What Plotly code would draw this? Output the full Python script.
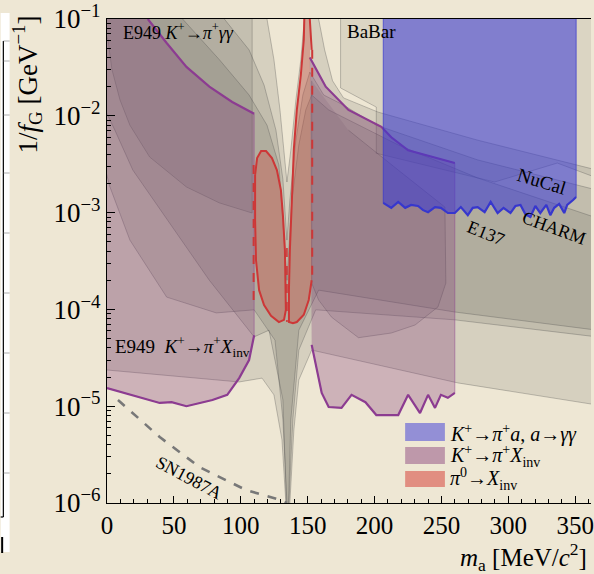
import plotly.graph_objects as go

# ---------------- data: mass m_a [MeV/c^2], coupling 1/f_G [GeV^-1] ----------------
# beam-dump style grey bands (outer, middle, inner)
bandA_m = [-5, 117, 119.6, 124.8, 129.3, 133.0, 134.5, 137.4, 141.2, 144.9, 147.1, 148.6, 156.8, 158.2, 162.7,
           168.6, 176.8, 202.8, 277.1, 366.3, 366.3, 262.3, 153.0, 143.4, 139.7, 136.7, 136.7, 133.7, 133.7,
           130.8, 124.8, 115.9, 98.8, 0, -5]
bandA_c = [0.15, 0.15, 0.1, 3.8e-2, 1.15e-2, 3.5e-3, 2.07e-3, 4.4e-3, 1.46e-2, 3.8e-2, 7.7e-2, 0.15, 0.15, 0.1,
           4.8e-2, 2.3e-2, 1.53e-2, 1.09e-2, 5.6e-3, 2.75e-3, 1.03e-5, 1.74e-5, 3.8e-5, 1.87e-5, 5.7e-6, 1e-6,
           5e-7, 5e-7, 1e-6, 4.5e-6, 1.31e-5, 1.95e-5, 1.78e-5, 2.4e-5, 2.4e-5]

bandB_m = [-5, 85, 87.7, 106.2, 117.4, 126.3, 131.5, 134.5, 136.7, 141.2, 146.4, 151.6, 162.0, 176.8, 201.3,
           277.1, 366.3, 366.3, 260.0, 156.0, 143.4, 138.9, 136.0, 136.0, 134.5, 134.5, 131.5, 125.6, 110.0,
           81.7, 44.6, 17.1, 2.2, -5]
bandB_c = [0.15, 0.15, 0.1, 4.8e-2, 2.08e-2, 7.1e-3, 2.2e-3, 5.2e-4, 1.35e-3, 5.6e-3, 1.64e-2, 2.83e-2, 1.64e-2,
           1.29e-2, 8.0e-3, 3.5e-3, 1.71e-3, 5.2e-5, 7.8e-5, 9.9e-5, 3.8e-5, 7.2e-6, 1e-6, 5e-7, 5e-7, 1e-6,
           7.2e-6, 4.8e-5, 9.9e-5, 9.2e-5, 1.34e-4, 5.2e-4, 1.84e-3, 4.4e-3]

bandC_m = [-5, 54, 56.5, 84.0, 106.2, 119.6, 128.5, 134.5, 138.2, 143.4, 148.6, 153.0, 165.7, 188.0, 217.7,
           277.1, 366.3, 366.3, 260.0, 158.2, 143.4, 137.4, 135.2, 135.2, 134.1, 134.1, 131.5, 121.1, 110.0,
           76.5, 19.3, 5.9, -5]
bandC_c = [0.15, 0.15, 0.1, 3.8e-2, 1.64e-2, 8.0e-3, 3.1e-3, 2.0e-4, 1.35e-3, 5.0e-3, 1.15e-2, 1.64e-2,
           1.15e-2, 8.0e-3, 5.0e-3, 2.28e-3, 8.8e-4, 6.1e-5, 9.4e-5, 1.58e-4, 6.1e-5, 7.2e-6, 1e-6, 5e-7, 5e-7,
           1e-6, 1.16e-5, 6.1e-5, 5.2e-5, 2.0e-4, 2.75e-3, 7.1e-3, 1.46e-2]

# E949 K+ -> pi+ gamma gamma
e949gg_m = [-5, 108.5, 108.5, 84.0, 59.4, 31.9, 17.1, 9.7, 3.7, 0.7, -5]
e949gg_c = [0.15, 0.15, 9.9e-4, 1.26e-3, 1.84e-3, 3.75e-3, 8.0e-3, 1.46e-2, 3.0e-2, 6.1e-2, 0.1]

# BaBar
babar_m = [174.6, 174.6, 201.3, 201.3, 289.7, 336.6, 366.3, 366.3]
babar_c = [0.15, 1.94e-2, 1.23e-2, 4.1e-3, 2.07e-3, 3.25e-3, 2.28e-3, 0.15]

# inner rounded grey region above pi0 mass
bulb_m = [153.0, 153.0, 158.2, 167.9, 188.0, 212.5, 230.3, 247.4, 253.3, 252.6, 217.7, 180.5]
bulb_c = [2.3e-2, 1.87e-4, 1.25e-4, 8.3e-5, 5.1e-5, 5.7e-5, 6.9e-5, 1.06e-4, 1.87e-4, 1.14e-3, 2.75e-3, 7.1e-3]

# K+ -> pi+ X_inv (below pi0)
kpiL_up_m = [30.5, 44.6, 59.4, 76.5, 93.6, 110.0]
kpiL_up_c = [0.1, 5.65e-2, 3.2e-2, 2.0e-2, 1.39e-2, 1.05e-2]
kpiL_lo_m = [0, 39.4, 48.3, 59.4, 78.8, 89.9, 98.8, 106.2, 110.0]
kpiL_lo_c = [1.54e-5, 1.08e-5, 1.10e-5, 1.0e-5, 1.16e-5, 1.31e-5, 1.95e-5, 3.0e-5, 5.4e-5]

# K+ -> pi+ X_inv (above pi0)
kpiR_up_m = [151.6, 163.5, 180.5, 205.1, 212.5, 225.1, 260.0]
kpiR_up_c = [4.0e-2, 2.0e-2, 1.15e-2, 7.7e-3, 6.0e-3, 4.4e-3, 3.25e-3]
kpiR_lo_m = [153.0, 160.5, 165.7, 175.3, 182.8, 193.2, 201.3, 217.7, 225.1, 234.0, 240.0, 245.2, 249.6, 254.8, 260.0]
kpiR_lo_c = [4.3e-5, 1.37e-5, 9.8e-6, 9.6e-6, 1.31e-5, 1.10e-5, 8.1e-6, 8.1e-6, 1.31e-5, 8.5e-6, 1.31e-5,
             9.6e-6, 1.31e-5, 1.22e-5, 1.37e-5]

# pi0 -> X_inv lobes
pi0L_m = [110.7, 112.2, 115.2, 118.9, 123.3, 127.0, 130.0, 131.5, 133.0, 133.7, 133.7, 132.3, 128.5, 122.6,
          117.4, 113.7, 111.4, 110.7, 110.7]
pi0L_c = [2.45e-3, 3.66e-3, 4.33e-3, 4.33e-3, 3.66e-3, 2.75e-3, 1.71e-3, 9.4e-4, 4.1e-4, 1.79e-4, 9.9e-5,
          7.8e-5, 7.4e-5, 8.6e-5, 1.11e-4, 1.58e-4, 3.2e-4, 8.4e-4, 2.45e-3]
pi0R_m = [153.0, 150.8, 147.1, 141.9, 139.0, 136.0, 136.0, 136.7, 138.2, 139.7, 141.9, 144.9, 147.1, 147.8, 147.8]
pi0R_c = [2.0e-4, 1.25e-4, 8.8e-5, 7.4e-5, 7.2e-5, 7.4e-5, 1.58e-4, 4.1e-4, 1.35e-3, 4.6e-3, 1.15e-2, 2.64e-2,
          6.1e-2, 0.1, 0.15]
pi0R_top_m = [151.6, 151.6, 153.0]
pi0R_top_c = [0.15, 0.1, 4.8e-2]
pi0R_edge_m = [153.4, 153.4]
pi0R_edge_c = [4.8e-2, 2.0e-4]
pi0L_edge_m = [109.6, 109.6]
pi0L_edge_c = [3.1e-3, 1.25e-4]
pi0_mid_m = [134.5, 134.5]
pi0_mid_c = [4.3e-4, 7.4e-5]

# K+ -> pi+ a, a -> gamma gamma
kpa_lo_m = [206.5, 212.5, 217.7, 222.9, 227.3, 232.5, 236.3, 240.0, 245.2, 249.6, 254.8, 260.0, 264.5, 269.7,
            273.4, 277.1, 282.3, 286.8, 292.0, 296.4, 301.6, 305.3, 309.1, 312.8, 316.5, 320.2, 323.9, 328.4,
            331.4, 334.3, 338.0, 341.8, 344.0, 346.2, 348.4, 350.7]
kpa_lo_c = [1.26e-3, 1.12e-3, 1.29e-3, 1.12e-3, 1.2e-3, 1.17e-3, 1.06e-3, 1.01e-3, 1.14e-3, 1.12e-3, 9.9e-4,
            9.9e-4, 1.14e-3, 9.4e-4, 1.12e-3, 1.14e-3, 1.01e-3, 1.29e-3, 9.9e-4, 1.12e-3, 9.9e-4, 1.17e-3,
            1.2e-3, 9.6e-4, 9.0e-4, 1.17e-3, 9.9e-4, 1.2e-3, 9.4e-4, 1.12e-3, 1.23e-3, 9.9e-4, 1.2e-3, 1.26e-3,
            1.35e-3, 1.45e-3]
KPA_TOP = 0.15

# SN1987A
sn_m = [8.2, 39.4, 69.1, 104.0, 130.0, 134.5]
sn_c = [1.16e-5, 4.8e-6, 2.35e-6, 1.36e-6, 1.07e-6, 1e-6]

x_ticks = [0, 50, 100, 150, 200, 250, 300, 350]
y_ticks = [1e-6, 1e-5, 1e-4, 1e-3, 1e-2, 1e-1]
y_ticktext = ["10<sup>−6</sup>", "10<sup>−5</sup>", "10<sup>−4</sup>", "10<sup>−3</sup>", "10<sup>−2</sup>",
              "10<sup>−1</sup>"]

# ---------------- styling ----------------
BG = "#eee7d4"
FONT = "Liberation Serif"
GREY_FILL = "rgba(95,95,88,0.17)"
GREY_LINE = "rgba(70,70,70,0.30)"
PURPLE_FILL = "rgba(130,55,120,0.30)"
PURPLE_LINE = "rgb(140,60,145)"
RED_FILL = "rgba(205,75,65,0.36)"
RED_LINE = "rgb(205,55,55)"
BLUE_FILL = "rgba(55,55,215,0.55)"
BLUE_LINE = "rgb(55,55,205)"

fig = go.Figure()


def poly(m, c, fill, line=GREY_LINE, width=1.0):
    fig.add_trace(go.Scatter(x=m, y=c, mode="lines", fill="toself", fillcolor=fill,
                             line=dict(color=line, width=width), hoverinfo="skip", showlegend=False))


def curve(m, c, color, width=2.0, dash="solid"):
    fig.add_trace(go.Scatter(x=m, y=c, mode="lines", line=dict(color=color, width=width, dash=dash),
                             hoverinfo="skip", showlegend=False))


# grey constraints
poly(babar_m, babar_c, "rgba(95,95,88,0.13)")
poly(e949gg_m, e949gg_c, "rgba(95,95,88,0.14)")
poly(bandA_m, bandA_c, GREY_FILL)
poly(bandB_m, bandB_c, GREY_FILL)
poly(bandC_m, bandC_c, GREY_FILL)
poly(bulb_m, bulb_c, "rgba(95,80,95,0.14)")

# K -> pi X_inv (purple)
pl_m = [0, 28.5] + kpiL_up_m + kpiL_lo_m[::-1]
pl_c = [0.15, 0.15] + kpiL_up_c + kpiL_lo_c[::-1]
poly(pl_m, pl_c, PURPLE_FILL, line="rgba(140,60,145,0.45)", width=1)
curve(kpiL_up_m, kpiL_up_c, PURPLE_LINE, 2.2)
curve(kpiL_lo_m, kpiL_lo_c, PURPLE_LINE, 2.2)

pr_m = kpiR_up_m + kpiR_lo_m[::-1]
pr_c = kpiR_up_c + kpiR_lo_c[::-1]
poly(pr_m, pr_c, PURPLE_FILL, line="rgba(140,60,145,0.45)", width=1)
curve(kpiR_up_m, kpiR_up_c, PURPLE_LINE, 2.2)
curve(kpiR_lo_m, kpiR_lo_c, PURPLE_LINE, 2.2)

# pi0 -> X_inv (red)
poly(pi0L_m, pi0L_c, RED_FILL, line=RED_LINE, width=2)
poly(pi0R_m + pi0R_top_m[:2], pi0R_c + pi0R_top_c[:2], RED_FILL, line="rgba(0,0,0,0)", width=0)
curve(pi0R_m, pi0R_c, RED_LINE, 2)
curve(pi0R_top_m, pi0R_top_c, RED_LINE, 2)
curve(pi0R_edge_m, pi0R_edge_c, RED_LINE, 2, "dash")
curve(pi0L_edge_m, pi0L_edge_c, RED_LINE, 2, "dash")
curve(pi0_mid_m, pi0_mid_c, RED_LINE, 1.6, "dash")

# K -> pi a, a -> gamma gamma (blue)
pb_m = [kpa_lo_m[0]] + kpa_lo_m + [kpa_lo_m[-1]]
pb_c = [KPA_TOP] + kpa_lo_c + [KPA_TOP]
poly(pb_m, pb_c, BLUE_FILL, line="rgba(55,55,205,0.7)", width=1)
curve(kpa_lo_m, kpa_lo_c, BLUE_LINE, 2.2)

# SN1987A
curve(sn_m, sn_c, "rgb(120,120,120)", 2.6, "dash")

# ---------------- layout ----------------
W, H = 594, 574
L, R, T, B = 107, 0, 19, 71


def px(xp):
    return (xp - L) / (W - L - R)


def py(yp):
    return (H - B - yp) / (H - T - B)


ann = []


def text(s, x, y, size=18, angle=0, xanchor="center", yanchor="middle"):
    ann.append(dict(text=s, x=px(x), y=py(y), xref="paper", yref="paper", showarrow=False,
                    font=dict(family=FONT, size=size, color="black"), textangle=angle,
                    xanchor=xanchor, yanchor=yanchor))


text("E949 <i>K</i><sup>+</sup>→<i>π</i><sup>+</sup><i>γγ</i>", 121, 31, size=18, xanchor="left")
text("BaBar", 346, 32, size=19, xanchor="left")
text("E949  <i>K</i><sup>+</sup>→<i>π</i><sup>+</sup><i>X</i><sub>inv</sub>", 113, 346, size=19, xanchor="left")
text("NuCal", 545, 181, size=19, angle=17)
text("CHARM", 557, 228, size=18, angle=20)
text("E137", 488, 233, size=18, angle=22)
text("SN1987A", 190, 478, size=18, angle=28)

# legend (manual)
shapes = []
leg = [("<i>K</i><sup>+</sup>→<i>π</i><sup>+</sup><i>a</i>, <i>a</i>→<i>γγ</i>", "rgba(55,55,215,0.5)", 423, 441, 433),
       ("<i>K</i><sup>+</sup>→<i>π</i><sup>+</sup><i>X</i><sub>inv</sub>", "rgba(130,55,120,0.45)", 447, 464, 456),
       ("<i>π</i><sup>0</sup>→<i>X</i><sub>inv</sub>", "rgba(215,70,60,0.55)", 471, 487, 479)]
for label, col, y0, y1, yc in leg:
    shapes.append(dict(type="rect", xref="paper", yref="paper", x0=px(407), x1=px(447), y0=py(y1), y1=py(y0),
                       fillcolor=col, line=dict(width=0)))
    text(label, 450, yc, size=20, xanchor="left")

# axis titles
text("1/<i>f</i><sub>G</sub> [GeV<sup>−1</sup>]", 27, 84, size=27, angle=-90)
text("<i>m</i><sub>a</sub> [MeV/<i>c</i><sup>2</sup>]", 592, 557, size=25, xanchor="right")

# neighbouring-panel remnant at left edge
shapes.append(dict(type="rect", xref="paper", yref="paper", x0=px(0), x1=px(9), y0=py(552), y1=py(13),
                   fillcolor="white", line=dict(width=0), layer="above"))
shapes.append(dict(type="line", xref="paper", yref="paper", x0=px(2.7), x1=px(2.7), y0=py(517), y1=py(41),
                   line=dict(color="black", width=1.2), layer="above"))
shapes.append(dict(type="line", xref="paper", yref="paper", x0=px(0), x1=px(2.7), y0=py(517), y1=py(517),
                   line=dict(color="black", width=1.2), layer="above"))
shapes.append(dict(type="line", xref="paper", yref="paper", x0=px(1.5), x1=px(1.5), y0=py(553), y1=py(537),
                   line=dict(color="black", width=2), layer="above"))
for yy in [41, 61, 115, 173, 233, 293, 353, 413, 473]:
    shapes.append(dict(type="line", xref="paper", yref="paper", x0=px(2.7), x1=px(9), y0=py(yy), y1=py(yy),
                       line=dict(color="rgba(120,120,120,0.6)", width=1), layer="above"))

fig.update_layout(
    width=W, height=H,
    margin=dict(l=L, r=R, t=T, b=B),
    paper_bgcolor=BG, plot_bgcolor=BG,
    showlegend=False,
    annotations=ann, shapes=shapes,
    font=dict(family=FONT, color="black"),
)
fig.update_xaxes(range=[0, 361.8], tickvals=x_ticks, ticks="inside", ticklen=7, tickcolor="black",
                 showline=True, linecolor="black", linewidth=1.2, mirror=True, showgrid=False, zeroline=False,
                 ticklabeloverflow="allow",
                 tickfont=dict(family=FONT, size=25, color="black"),
                 minor=dict(dtick=10, ticks="inside", ticklen=4, tickcolor="black", showgrid=False))
fig.update_yaxes(type="log", range=[-6, -1], tickvals=y_ticks, ticktext=y_ticktext, ticks="inside", ticklen=8,
                 tickcolor="black", showline=True, linecolor="black", linewidth=1.2, showgrid=False,
                 zeroline=False, ticklabeloverflow="allow", tickfont=dict(family=FONT, size=27, color="black"),
                 minor=dict(dtick="D1", ticks="inside", ticklen=4, tickcolor="black", showgrid=False))

fig.write_html("out.html")
